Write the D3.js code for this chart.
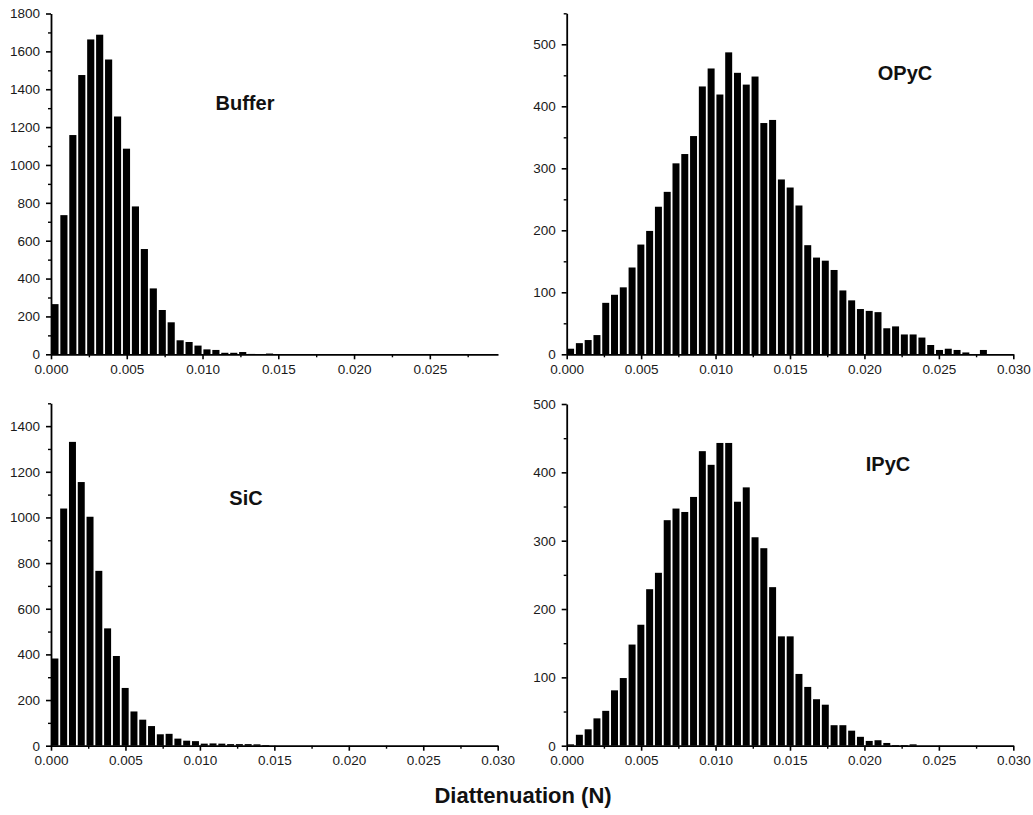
<!DOCTYPE html>
<html>
<head>
<meta charset="utf-8">
<script src="https://cdn.jsdelivr.net/npm/d3@7"></script>
<style>
  body { margin: 0; background: #fff; }
  svg { display: block; }
  .tick text { font-family: Arial, "Liberation Sans", sans-serif; font-size: 13.5px; fill: #1a1a1a; }
</style>
</head>
<body>
<script>
// histogram counts, one bin = binWidth, first bin starts at 0
const binWidth = 0.00059;
const bufferCounts = [265, 735, 1158, 1475, 1663, 1688, 1557, 1256, 1086, 781, 556, 348, 234, 169,
    74, 65, 46, 26, 23, 8, 8, 12, 2, 1, 4];
const opycCounts = [9, 18, 23, 31, 83, 96, 108, 140, 177, 199, 238, 262, 308, 323, 352, 432, 461, 419,
    487, 454, 435, 448, 373, 378, 282, 269, 240, 176, 156, 151, 136, 103, 87, 73, 70, 68, 42, 45,
    32, 32, 27, 15, 7, 9, 7, 3, 0, 7];
const sicCounts = [382, 1039, 1331, 1155, 1003, 766, 514, 393, 253, 150, 114, 86, 50, 52, 31, 22,
    20, 9, 10, 9, 7, 7, 7, 6, 3];
const ipycCounts = [2, 16, 24, 40, 51, 81, 99, 148, 177, 229, 253, 330, 347, 342, 364, 431, 411, 443,
    443, 357, 378, 305, 289, 232, 160, 160, 105, 86, 68, 60, 30, 30, 22, 13, 7, 8, 4, 1, 1, 2];

const panelNames = ["Buffer", "OPyC", "SiC", "IPyC"];
const panelCounts = [bufferCounts, opycCounts, sicCounts, ipycCounts];
const xMax = [0.0295, 0.030, 0.030, 0.030];
const yMax = [1800, 550, 1500, 500];
const yStep = [200, 100, 200, 100];
const xStep = 0.005;
const xTitle = "Diattenuation (N)";

const canvWidth = 1033, canvHeight = 815;
const svg = d3.select("body").append("svg")
    .attr("width", canvWidth)
    .attr("height", canvHeight);

// plot areas in pixels: [left, right, top, bottom]
const areas = [
    [51, 498, 13.5, 354.3],
    [566.7, 1013.3, 13.3, 354.3],
    [51, 497.7, 403.3, 745.7],
    [566.7, 1013.3, 404, 745.7]
];
// name label position (centre x, baseline y)
const labelPos = [[245, 110], [905, 80], [246, 505], [888, 471]];

function drawPanel(i) {
    const [l, r, t, b] = areas[i];
    const counts = panelCounts[i];

    const x = d3.scaleLinear().domain([0, xMax[i]]).range([l, r]);
    const y = d3.scaleLinear().domain([0, yMax[i]]).range([b, t]);

    const g = svg.append("g").attr("class", "panel");

    // bars
    const bw = x(binWidth) - x(0);
    g.selectAll("rect")
        .data(counts)
        .join("rect")
        .attr("x", (d, k) => x(k * binWidth) + 0.4)
        .attr("width", bw - 1.8)
        .attr("y", d => y(d))
        .attr("height", d => b - y(d))
        .attr("fill", "#000");

    // x axis: majors and minors
    const xMajors = d3.range(0, xMax[i] + 1e-9, xStep);
    const xMinors = d3.range(xStep / 2, xMax[i] + 1e-9, xStep);
    g.append("g")
        .attr("transform", "translate(0," + b + ")")
        .call(d3.axisBottom(x).tickValues(xMinors).tickFormat("").tickSize(3).tickSizeOuter(0))
        .call(a => a.select(".domain").remove())
        .selectAll("line").attr("stroke", "#000").attr("stroke-width", 1.4);
    const xa = g.append("g")
        .attr("transform", "translate(0," + b + ")")
        .call(d3.axisBottom(x).tickValues(xMajors).tickFormat(d3.format(".3f"))
            .tickSize(5).tickSizeOuter(0).tickPadding(5));
    xa.select(".domain").attr("stroke", "#000").attr("stroke-width", 1.8);
    xa.selectAll("line").attr("stroke", "#000").attr("stroke-width", 1.6);

    // y axis
    const yMajors = d3.range(0, yMax[i] + 1, yStep[i]);
    const yMinors = d3.range(yStep[i] / 2, yMax[i] + 1, yStep[i]);
    g.append("g")
        .attr("transform", "translate(" + l + ",0)")
        .call(d3.axisLeft(y).tickValues(yMinors).tickFormat("").tickSize(3).tickSizeOuter(0))
        .call(a => a.select(".domain").remove())
        .selectAll("line").attr("stroke", "#000").attr("stroke-width", 1.4);
    const ya = g.append("g")
        .attr("transform", "translate(" + l + ",0)")
        .call(d3.axisLeft(y).tickValues(yMajors).tickFormat(d3.format("d"))
            .tickSize(5).tickSizeOuter(0).tickPadding(6));
    ya.select(".domain").attr("stroke", "#000").attr("stroke-width", 1.8);
    ya.selectAll("line").attr("stroke", "#000").attr("stroke-width", 1.6);

    // panel name
    g.append("text")
        .attr("x", labelPos[i][0])
        .attr("y", labelPos[i][1])
        .attr("text-anchor", "middle")
        .attr("font-family", "Arial, 'Liberation Sans', sans-serif")
        .attr("font-weight", "bold")
        .attr("font-size", "20px")
        .attr("fill", "#111")
        .text(panelNames[i]);
}

panelNames.forEach((n, i) => drawPanel(i));

// shared x title
svg.append("text")
    .attr("x", 523)
    .attr("y", 803)
    .attr("text-anchor", "middle")
    .attr("font-family", "Arial, 'Liberation Sans', sans-serif")
    .attr("font-weight", "bold")
    .attr("font-size", "22px")
    .attr("fill", "#111")
    .text(xTitle);
</script>
</body>
</html>
